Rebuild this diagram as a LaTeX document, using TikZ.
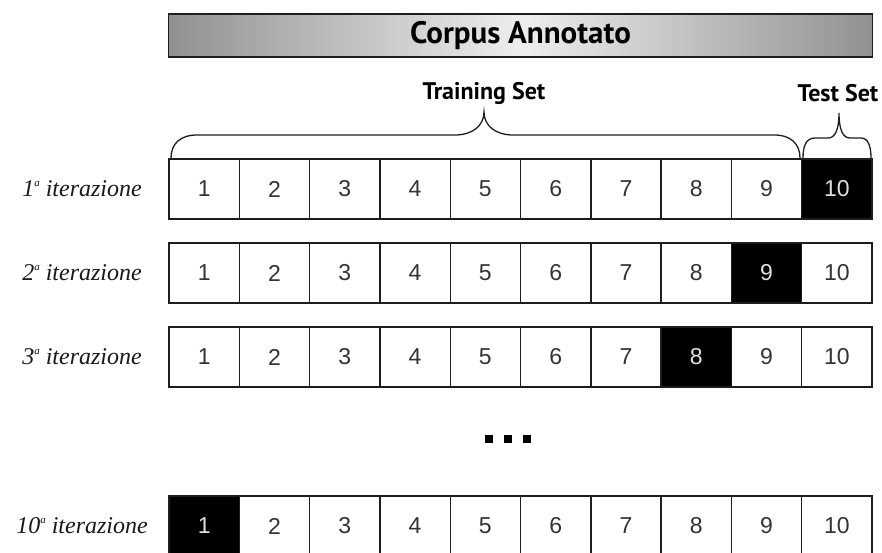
\documentclass[tikz,border=0pt]{standalone}
\usepackage{fontspec}
\newfontfamily\headfont{PT Sans}
\newfontfamily\numfont{Liberation Sans}
\newfontfamily\labfont{Liberation Serif}
\definecolor{barside}{RGB}{145,145,145}
\definecolor{barmid}{RGB}{238,238,238}
\definecolor{lineclr}{RGB}{30,30,30}
\newcommand{\ordsup}{\raisebox{0.42em}{\fontsize{11}{11}\selectfont a}}
\begin{document}
\begin{tikzpicture}[x=1pt,y=-1pt,
  cell/.style={draw=lineclr, line width=1.4pt, minimum width=70.3pt, minimum height=60pt, inner sep=0pt,
    font=\numfont\fontsize{23}{23}\selectfont},
  lab/.style={font=\labfont\itshape\fontsize{24}{24}\selectfont, text=black!90, inner sep=0pt},
  headtxt/.style={font=\headfont\bfseries\fontsize{24}{24}\selectfont, inner sep=0pt},
  bracestyle/.style={draw=lineclr, line width=1.3pt},
  sq/.style={fill=black, minimum size=8pt, inner sep=0pt}
]
\clip (0,0) rectangle (882,552);
\fill[white] (0,0) rectangle (882,552);

% header bar
\node[draw=lineclr, line width=1.4pt, left color=barside, right color=barside, middle color=barmid,
  minimum width=704pt, minimum height=43pt, inner sep=0pt,
  font=\headfont\bfseries\fontsize{31}{31}\selectfont] (corpus) at (520.5,35.5) {Corpus Annotato};

% brace labels
\node[headtxt] (train) at (484,93) {Training Set};
\node[headtxt] (test) at (838,93) {Test Set};

% braces
\draw[bracestyle] (171,158) .. controls (171,144) and (180,135) .. (197,135)
  -- (455,135) .. controls (472,135) and (484,126) .. (484,112)
  .. controls (484,126) and (496,135) .. (513,135)
  -- (774,135) .. controls (791,135) and (800,144) .. (800,158);
\draw[bracestyle] (803,158) .. controls (803,146) and (806,138) .. (815,138)
  -- (828,138) .. controls (835,138) and (839,130) .. (839,113)
  .. controls (839,130) and (843,138) .. (850,138)
  -- (861,138) .. controls (868,138) and (871,146) .. (871,158);

% rows
\foreach \r/\y/\k in {1/189/10,2/273/9,3/357/8,10/526/1}{
  \node[lab] (l\r) at (82,\y) {\r\ordsup{} iterazione};
  \foreach \c in {1,...,10}{
    \ifnum\c=\k\relax\def\fc{black}\def\tc{white!88!black}\else\def\fc{white}\def\tc{black!80}\fi
    \node[cell, fill=\fc, text=\tc] (r\r c\c) at ({204.15+70.3*(\c-1)},\y) {\c};
  }
}

% ellipsis
\node[sq] (d1) at (489,439) {};
\node[sq] (d2) at (508,439) {};
\node[sq] (d3) at (527,439) {};
\end{tikzpicture}
\end{document}
